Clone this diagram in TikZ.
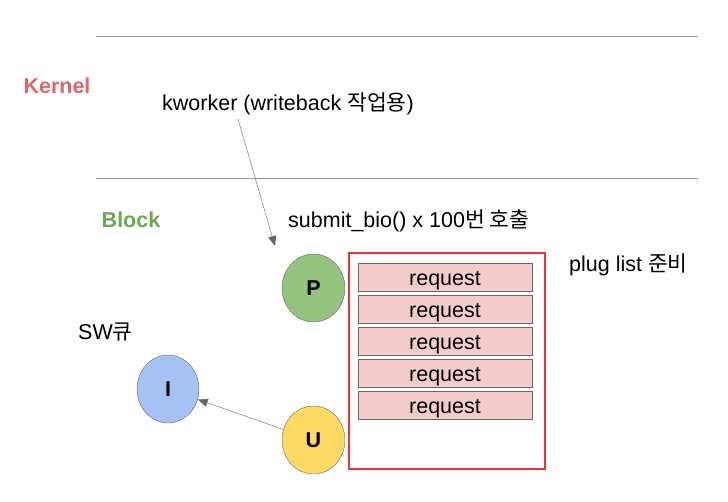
\documentclass[tikz,border=0pt]{standalone}
\usepackage{fontspec}
\setmainfont{Liberation Sans}
\newfontfamily\kr{Noto Sans CJK KR}
\usetikzlibrary{arrows.meta,shapes.geometric}
\definecolor{kred}{HTML}{E06666}
\definecolor{bgreen}{HTML}{6AA84F}
\definecolor{pfill}{HTML}{93C47D}
\definecolor{ifill}{HTML}{A4C2F4}
\definecolor{ufill}{HTML}{FFD966}
\definecolor{rfill}{HTML}{F4CCCC}
\definecolor{lgray}{HTML}{999999}
\definecolor{dgray}{HTML}{666666}
\definecolor{boxred}{RGB}{235,50,50}
\tikzset{
  lbl/.style={inner sep=0pt, font=\fontsize{21.5}{24}\selectfont},
  circ/.style={ellipse, draw=dgray, minimum width=63pt, minimum height=68pt, inner sep=0pt, font=\fontsize{21.5}{24}\selectfont\bfseries},
  reqbox/.style={draw=dgray, line width=1pt, fill=rfill, minimum width=174pt, minimum height=28pt, inner sep=0pt, text height=17pt, text depth=0pt, font=\fontsize{21.5}{24}\selectfont},
  plugbox/.style={rectangle, draw=boxred, color=boxred, line width=1.2pt, minimum width=196pt, minimum height=216pt, inner sep=0pt},
  conn/.style={draw=dgray, -{Triangle[length=10pt,width=8pt]}}
}
\begin{document}
\begin{tikzpicture}[x=1pt,y=-1pt]
\useasboundingbox (0,0) rectangle (728,501);
\coordinate (l1a) at (96,36); \coordinate (l1b) at (698,36);
\coordinate (l2a) at (96,178); \coordinate (l2b) at (698,178);
\draw[lgray, line width=1pt] (l1a) -- (l1b);
\draw[lgray, line width=1pt] (l2a) -- (l2b);
\node[lbl, text=kred, font=\fontsize{21.5}{24}\selectfont\bfseries] (kernel) at (57,86) {Kernel};
\node[lbl, anchor=base west] (kw) at (162,110) {kworker (writeback {\kr 작업용})};
\node[lbl, text=bgreen, font=\fontsize{21.5}{24}\selectfont\bfseries] (block) at (131,220) {Block};
\node[lbl, anchor=base west] (sb) at (288,227) {submit\_bio() x 100{\kr 번 호출}};
\node[lbl, anchor=base west] (pl) at (569,271) {plug list {\kr 준비}};
\node[lbl, anchor=base west] (sw) at (78,339) {SW{\kr 큐}};
\node[plugbox] (plug) at (447,361) {};
\node[reqbox] (r1) at (445,277) {request};
\node[reqbox] (r2) at (445,309) {request};
\node[reqbox] (r3) at (445,341) {request};
\node[reqbox] (r4) at (445,373) {request};
\node[reqbox] (r5) at (445,405) {request};
\node[circ, fill=pfill] (P) at (313.5,288) {P};
\node[circ, fill=ufill] (U) at (313.5,440) {U};
\node[circ, fill=ifill, minimum width=62pt] (I) at (168,389) {I};
\coordinate (kwfoot) at (238,119);
\draw[conn] (kwfoot) -- (275,246);
\draw[conn] (U) -- (I);
\end{tikzpicture}
\end{document}
